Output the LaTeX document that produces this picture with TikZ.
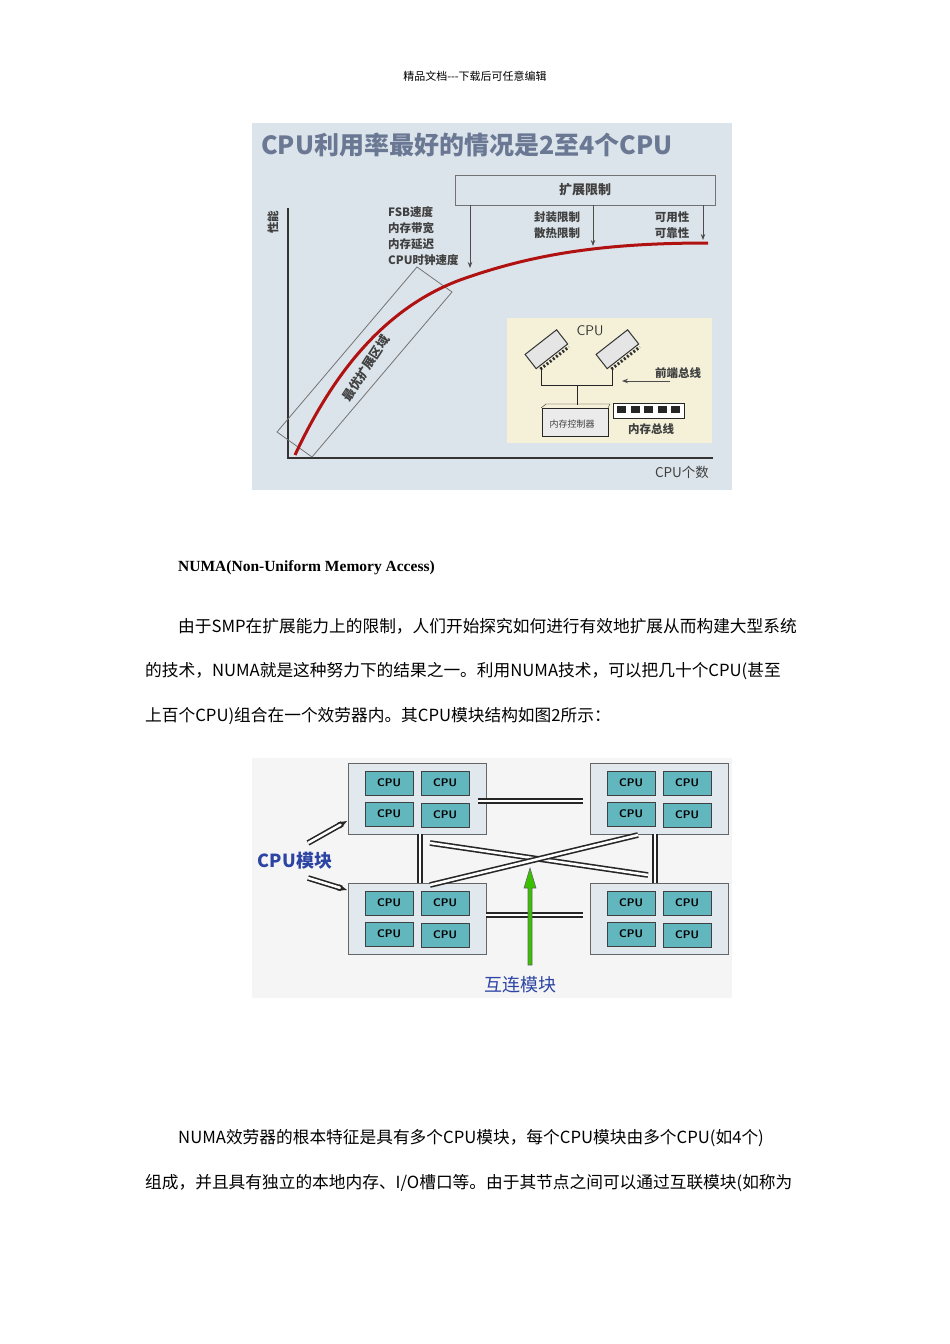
\documentclass[tikz,border=0pt]{standalone}
\usepackage{fontspec}
\setmainfont{Liberation Serif}
\newfontfamily\cjk{Noto Sans CJK SC}
\usetikzlibrary{arrows.meta}
\definecolor{bgA}{HTML}{DCE4EB}
\definecolor{ttl}{HTML}{6A7894}
\definecolor{crv}{HTML}{B01212}
\definecolor{inset}{HTML}{F4F1D8}
\definecolor{modf}{HTML}{E2E9EE}
\definecolor{cpuf}{HTML}{62B6BE}
\definecolor{blu}{HTML}{2C44A4}
\tikzset{
 body/.style={anchor=west,inner sep=0,font=\cjk\fontsize{16.7}{16.7}\selectfont},
 lab/.style={inner sep=0,font=\cjk\bfseries\fontsize{11.5}{11.5}\selectfont,text=black!75},
 modbox/.style={draw=black!60,fill=modf,line width=0.8pt},
 cpub/.style={draw=black!75,fill=cpuf,line width=0.9pt,minimum width=48pt,minimum height=24pt,inner sep=0,font=\sffamily\bfseries\fontsize{11}{11}\selectfont},
 dbl/.style={double=white,double distance=2.5pt,line width=1.6pt,draw=black!85},
 arr/.style={-{Stealth[length=6pt]},line width=0.8pt,draw=black!70}
}
\begin{document}
\begin{tikzpicture}[x=1pt,y=-1pt]
\useasboundingbox[fill=white] (0,0) rectangle (950,1344);
\node[inner sep=0,font=\cjk\fontsize{11}{11}\selectfont] (hdr) at (475,76) {精品文档---下载后可任意编辑};
% chart 1
\fill[bgA] (252,123) rectangle (732,490);
\node[inner sep=0,font=\cjk\bfseries\fontsize{25}{25}\selectfont,text=ttl,anchor=west] (t1) at (261,145) {CPU利用率最好的情况是2至4个CPU};
\fill[inset] (507,318) rectangle (712,443);
\draw[line width=1.5pt,black!80] (288,208) -- (288,458) -- (713,458);
\node[lab,rotate=90] (yl) at (273,222) {性能};
\node[lab,font=\cjk\fontsize{13.5}{13.5}\selectfont] (xl) at (682,472) {CPU个数};
\draw[black!55,line width=0.8pt] (277,432) -- (312,457) -- (452,292) -- (417,267) -- cycle;
\node[lab,font=\cjk\bfseries\fontsize{12.5}{12.5}\selectfont,rotate=57] (opt) at (366,368) {最优扩展区域};
\draw[crv,line width=3pt] (295,455) .. controls (330,380) and (380,310) .. (460,280) .. controls (530,255) and (600,243) .. (708,243);
\node[draw=black!55,line width=0.8pt,minimum width=260pt,minimum height=30pt] (exp) at (585,190) {};
\node[lab,font=\cjk\bfseries\fontsize{13}{13}\selectfont] at (exp) {扩展限制};
\coordinate (a1) at (470,268); \coordinate (a2) at (593,246); \coordinate (a3) at (703,240);
\draw[arr] (470,205) -- (a1);
\draw[arr] (593,205) -- (a2);
\draw[arr] (703,205) -- (a3);
\node[lab,anchor=west] at (388,212) {FSB速度};
\node[lab,anchor=west] at (388,228) {内存带宽};
\node[lab,anchor=west] at (388,244) {内存延迟};
\node[lab,anchor=west] at (388,260) {CPU时钟速度};
\node[lab] at (557,217) {封装限制};
\node[lab] at (557,233) {散热限制};
\node[lab] at (672,217) {可用性};
\node[lab] at (672,233) {可靠性};
% inset
\draw[black!80,line width=1pt,fill=white!90!black,rotate around={38:(547,350)}] (527,340) rectangle (567,358);
\draw[black!80,line width=1pt,fill=white!90!black,rotate around={38:(618,350)}] (598,340) rectangle (638,358);
\draw[black!80,line width=3pt,dash pattern=on 2pt off 2pt,rotate around={38:(547,350)}] (530,361) -- (566,361);
\draw[black!80,line width=3pt,dash pattern=on 2pt off 2pt,rotate around={38:(618,350)}] (601,361) -- (637,361);
\node[lab,font=\sffamily\fontsize{14}{14}\selectfont,text=black!80] (cpu) at (590,331) {CPU};
\draw[black!85,line width=1pt] (541,367) -- (541,385) -- (612,385) -- (612,367);
\draw[black!85,line width=1pt] (577,385) -- (577,405);
\node[draw=black!85,line width=1pt,fill=white!92!black,minimum width=66pt,minimum height=28pt,inner sep=0] (mc) at (575,422) {};
\draw[black!85] (541,408) -- (546,404) -- (610,404) -- (608,408);
\node[lab,font=\cjk\fontsize{9}{9}\selectfont] at (572,424) {内存控制器};
\draw[black!85,line width=1pt,fill=white] (613,403) rectangle (684,418);
\foreach \i in {0,...,4} \fill[black!85] (617+\i*13.5,406) rectangle (626+\i*13.5,413);
\node[lab] (mb) at (651,429) {内存总线};
\node[lab] (fb) at (678,373) {前端总线};
\draw[arr] (670,381) -- (622,381);
% paragraph
\node[anchor=west,inner sep=0,font=\bfseries\fontsize{15.5}{15.5}\selectfont] (h2) at (178,568) {NUMA(Non-Uniform Memory Access)};
\node[body] at (178,626) {由于SMP在扩展能力上的限制，人们开始探究如何进行有效地扩展从而构建大型系统};
\node[body] at (145,671) {的技术，NUMA就是这种努力下的结果之一。利用NUMA技术，可以把几十个CPU(甚至};
\node[body] at (145,716) {上百个CPU)组合在一个效劳器内。其CPU模块结构如图2所示：};
% diagram 2
\fill[white!96!black] (252,758) rectangle (732,998);
\foreach \n/\x/\y in {tl/348/763,tr/590/763,bl/348/883,br/590/883}{
 \draw[modbox] (\x,\y) rectangle ++(138,71);
 \node[cpub] at (\x+41,\y+20) {CPU};
 \node[cpub] at (\x+97,\y+20) {CPU};
 \node[cpub] at (\x+41,\y+51) {CPU};
 \node[cpub] at (\x+97,\y+52) {CPU};
}
\draw[dbl] (478,801) -- (583,801);
\draw[dbl] (486,915) -- (583,915);
\draw[dbl] (420,834) -- (420,883);
\draw[dbl] (655,834) -- (655,883);
\draw[dbl] (430,843) -- (648,875);
\draw[dbl] (430,885) -- (638,835);
\draw[draw=black!60,fill=green!65!black!70!lime,line width=0.6pt] (528,965) -- (528,888) -- (524,888) -- (530,868) -- (536,888) -- (532,888) -- (532,965) -- cycle;
\node[inner sep=0,font=\cjk\fontsize{18}{18}\selectfont,text=blu] (ic) at (520,985) {互连模块};
\node[inner sep=0,font=\cjk\bfseries\fontsize{18}{18}\selectfont,text=blu] (cm) at (295,861) {CPU模块};
\draw[dbl,-{Stealth[length=9pt]}] (308,843) -- (347,821);
\draw[dbl,-{Stealth[length=9pt]}] (308,878) -- (347,890);
\node[body] at (178,1138) {NUMA效劳器的根本特征是具有多个CPU模块，每个CPU模块由多个CPU(如4个)};
\node[body] at (145,1183) {组成，并且具有独立的本地内存、I/O槽口等。由于其节点之间可以通过互联模块(如称为};
\end{tikzpicture}
\end{document}
